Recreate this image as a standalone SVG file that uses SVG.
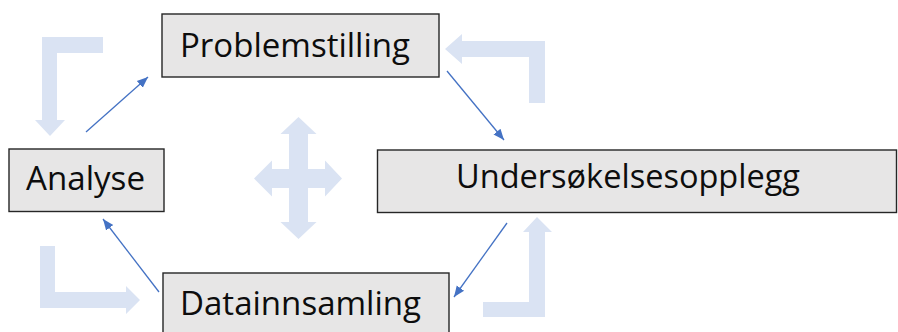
<svg xmlns="http://www.w3.org/2000/svg" width="898" height="332" viewBox="0 0 898 332">
  <style>
    .box { fill: #e7e6e6; stroke: #262626; stroke-width: 1.4; }
    .label { font-family: "Open Sans", "Liberation Sans", sans-serif; font-size: 33px; fill: #0d0d0d; }
    .flow { fill: #dae3f3; stroke: none; }
    .link { fill: none; stroke: #4472c4; stroke-width: 1.3; marker-end: url(#tip); }
  </style>
  <defs>
    <marker id="tip" markerUnits="userSpaceOnUse" markerWidth="12" markerHeight="12" viewBox="0 0 12 12" refX="11" refY="6" orient="auto">
      <path d="M0,1.5 L11,6 L0,10.5 Z" fill="#4472c4"/>
    </marker>
  </defs>

  <!-- pale cycle arrows -->
  <g id="flow-arrows">
    <polygon class="flow" points="42,37 103,37 103,53 57,53 57,120 65,120 50,136 35,120 42,120"/>
    <polygon class="flow" points="545,41 545,103 529,103 529,57 462,57 462,64 445,49 462,34 462,41"/>
    <polygon class="flow" points="40,246 55,246 55,292 126,292 126,286 140,300 126,314 126,308 40,308"/>
    <polygon class="flow" points="483,302 529,302 529,232 523,232 537,217 552,232 545,232 545,317 483,317"/>
    <polygon class="flow" points="298.5,117 316.5,134 308,134 308,169 325,169 325,160.5 342,178.5 325,196.5 325,188 308,188 308,222 316.5,222 298.5,239 280.5,222 289,222 289,188 272,188 272,196.5 254,178.5 272,160.5 272,169 289,169 289,134 280.5,134"/>
  </g>

  <!-- connectors -->
  <g id="connectors">
    <line class="link" x1="86" y1="132" x2="148" y2="77"/>
    <line class="link" x1="447" y1="71" x2="504" y2="140"/>
    <line class="link" x1="507" y1="223" x2="454" y2="297"/>
    <line class="link" x1="159" y1="292" x2="103" y2="219"/>
  </g>

  <g id="problemstilling">
    <rect class="box" x="162" y="14" width="277" height="63"/>
    <text class="label" x="180" y="57" textLength="230" lengthAdjust="spacingAndGlyphs">Problemstilling</text>
  </g>

  <g id="undersokelsesopplegg">
    <rect class="box" x="377.5" y="150" width="519" height="62.5"/>
    <text class="label" x="456" y="188" textLength="344" lengthAdjust="spacingAndGlyphs">Undersøkelsesopplegg</text>
  </g>

  <g id="datainnsamling">
    <rect class="box" x="163" y="273" width="286" height="70"/>
    <text class="label" x="180" y="315" textLength="241" lengthAdjust="spacingAndGlyphs">Datainnsamling</text>
  </g>

  <g id="analyse">
    <rect class="box" x="9" y="149" width="155" height="62.5"/>
    <text class="label" x="26" y="190" textLength="119" lengthAdjust="spacingAndGlyphs">Analyse</text>
  </g>
</svg>
